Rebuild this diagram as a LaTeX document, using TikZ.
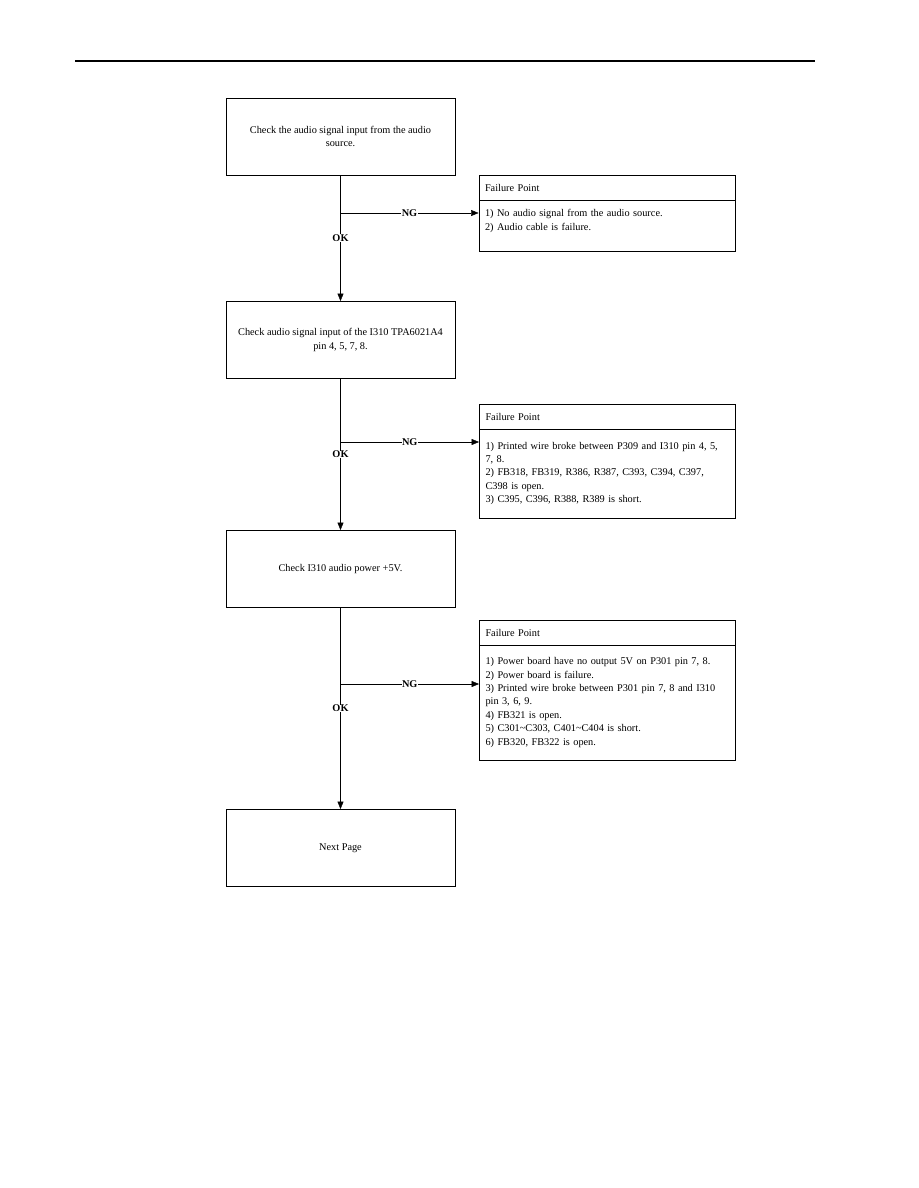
\documentclass[tikz,border=0pt]{standalone}
\usepackage{fontspec}
\setmainfont{Liberation Serif}
\usepackage{tikz}
\usetikzlibrary{arrows.meta}

\begin{document}
\begin{tikzpicture}[x=1pt,y=-1pt,>={Triangle[length=7.5pt,width=6pt]},
  font=\fontsize{10.3}{13.4}\selectfont,
  chk/.style={draw,line width=0.9pt,minimum width=229pt,minimum height=77pt,align=center,inner sep=0pt},
  fhead/.style={draw,line width=0.9pt,text width=244pt,inner xsep=6pt,minimum height=25pt,align=left},
  fbody/.style={draw,line width=0.9pt,text width=244pt,inner xsep=6pt,align=left},
  lbl/.style={fill=white,inner sep=0.5pt,font=\fontsize{10.3}{12}\selectfont\bfseries}]
  \useasboundingbox (0,0) rectangle (918,1188);
  \draw[line width=1.4pt] (75,61) -- (815,61);

  % checks down the left
  \node[chk] (C1) at (340.5,136.5) {Check the audio signal input from the audio\\source.};
  \node[chk] (C2) at (340.5,340) {Check audio signal input of the I310 TPA6021A4\\pin 4, 5, 7, 8.};
  \node[chk] (C3) at (340.5,569) {Check I310 audio power +5V.};
  \node[chk] (N) at (340.5,848) {Next Page};

  % failure points on the right
  \node[fhead] (F1) at (607,187.5) {Failure Point};
  \node[fbody,minimum height=51pt,text depth=25pt] (F1b) at (607,225.5)
    {1) No audio signal from the audio source.\\2) Audio cable is failure.};
  \node[fhead] (F2) at (607.5,416.5) {Failure Point};
  \node[fbody,minimum height=89pt] (F2b) at (607.5,473.5)
    {1) Printed wire broke between P309 and I310 pin 4, 5,\\7, 8.\\2) FB318, FB319, R386, R387, C393, C394, C397,\\C398 is open.\\3) C395, C396, R388, R389 is short.};
  \node[fhead] (F3) at (607.5,632.5) {Failure Point};
  \node[fbody,minimum height=115pt] (F3b) at (607.5,702.5)
    {1) Power board have no output 5V on P301 pin 7, 8.\\2) Power board is failure.\\3) Printed wire broke between P301 pin 7, 8 and I310\\pin 3, 6, 9.\\4) FB321 is open.\\5) C301\textasciitilde C303, C401\textasciitilde C404 is short.\\6) FB320, FB322 is open.};

  \coordinate (B1) at (340.5,213);
  \coordinate (B2) at (340.5,442);
  \coordinate (B3) at (340.5,684);

  \draw[->] (C1) -- node[lbl] {OK} (C2);
  \draw[->] (C2) -- node[lbl] {OK} (C3);
  \draw[->] (C3) -- node[lbl] {OK} (N);

  \draw[->] (B1) -- node[lbl] {NG} (B1 -| F1b.west);
  \draw[->] (B2) -- node[lbl] {NG} (B2 -| F2b.west);
  \draw[->] (B3) -- node[lbl] {NG} (B3 -| F3b.west);
\end{tikzpicture}
\end{document}
